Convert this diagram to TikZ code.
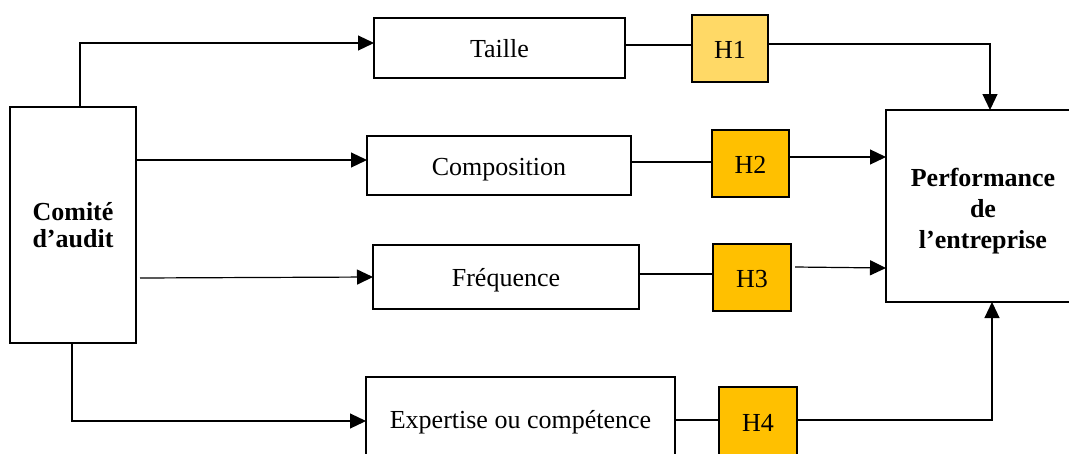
\documentclass[tikz,border=0pt]{standalone}
\usepackage{fontspec}
\setmainfont{Liberation Serif}
\usetikzlibrary{arrows.meta}
\begin{document}
\begin{tikzpicture}[x=1pt,y=-1pt,
  box/.style={draw,line width=2pt,inner sep=0pt,outer sep=0pt,font=\fontsize{26}{31}\selectfont,align=center},
  one/.style={box,text height=19pt,text depth=0pt},
  hyp/.style={one,fill=hcol},
  con/.style={line width=1.2pt},
  arr/.style={con,-{Triangle[length=16pt,width=15pt]}}]
\definecolor{hcol}{HTML}{FFC000}
\definecolor{hlight}{HTML}{FFD966}
\useasboundingbox (0,0) rectangle (1069,453);
\clip (0,0) rectangle (1069,453);
% nodes
\node[box,minimum width=126pt,minimum height=236pt,font=\fontsize{26}{27.5}\selectfont\bfseries] (ca) at (73,225) {Comité\\d’audit};
\node[one,minimum width=251pt,minimum height=60pt] (taille) at (499.5,48) {Taille};
\node[hyp,fill=hlight,minimum width=76pt,minimum height=67pt] (h1) at (730,48.5) {H1};
\node[one,minimum width=264pt,minimum height=59pt] (comp) at (499,165.5) {Composition};
\node[hyp,minimum width=77pt,minimum height=67pt] (h2) at (750.5,163.5) {H2};
\node[one,minimum width=266pt,minimum height=64pt] (freq) at (506,277) {Fréquence};
\node[hyp,minimum width=78pt,minimum height=67pt] (h3) at (752,277.5) {H3};
\node[one,minimum width=309pt,minimum height=84pt] (exp) at (520.5,419) {Expertise ou compétence};
\node[hyp,minimum width=78pt,minimum height=70pt] (h4) at (758,422) {H4};
\node[box,minimum width=200pt,minimum height=192pt] (perf) at (986,206) {};
\node[font=\fontsize{26}{31}\selectfont\bfseries,align=center,inner sep=0pt] (perft) at (983,211.5) {Performance\\de\\l’entreprise};
% connectors from Comité d'audit
\draw[arr] ([xshift=7pt]ca.north) |- (taille.west |- 0,43);
\draw[arr] (ca.east |- 0,160) -- (comp.west |- 0,160);
\draw[arr] ([xshift=4pt]ca.east |- 0,278) -- (freq.west |- 0,277);
\draw[arr] ([xshift=-1pt]ca.south) |- (exp.west |- 0,421);
% to hypotheses
\draw[con] (taille.east |- 0,45) -- (h1.west |- 0,45);
\draw[con] (comp.east |- 0,162) -- (h2.west |- 0,162);
\draw[con] (freq.east |- 0,274) -- (h3.west |- 0,274);
\draw[con] (exp.east |- 0,420) -- (h4.west |- 0,420);
% hypotheses to performance
\draw[arr] (h1.east |- 0,44) -| ([xshift=4pt]perf.north);
\draw[arr] (h2.east |- 0,157) -- (perf.west |- 0,157);
\draw[arr] ([xshift=4pt]h3.east |- 0,267) -- (perf.west |- 0,268);
\draw[arr] (h4.east |- 0,420) -| ([xshift=6pt]perf.south);
\end{tikzpicture}
\end{document}
